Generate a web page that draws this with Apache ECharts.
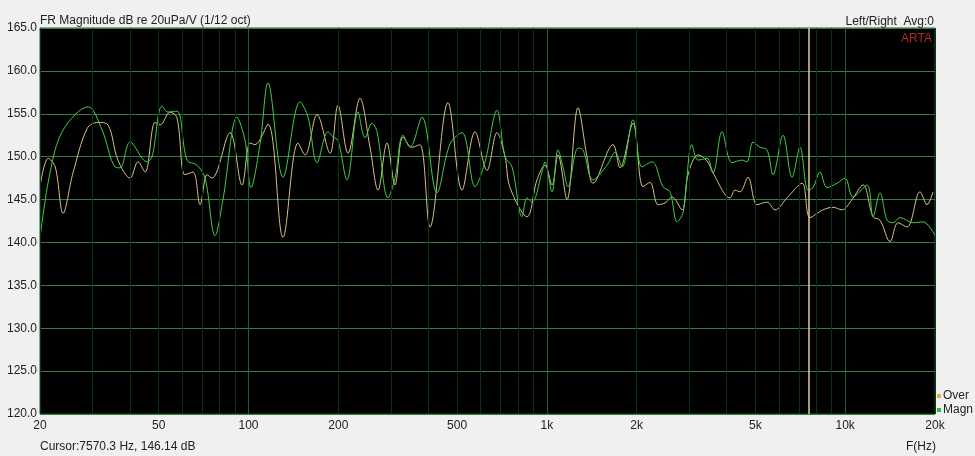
<!DOCTYPE html>
<html>
<head>
<meta charset="utf-8">
<script src="https://cdn.jsdelivr.net/npm/echarts@6/dist/echarts.min.js"></script>
<style>
html,body{margin:0;padding:0;background:#f0f0f0;}
#chart{width:975px;height:456px;}
</style>
</head>
<body>
<div id="chart"></div>
<script>
// ---- data ----
const magnFreq = [20,21.6,23.9,29.0,32.3,35.7,37.1,40.1,45.7,47.5,51.3,53.7,57.6,62.2,67.2,71.5,77.2,82.1,91.5,97.3,101.9,109.3,116.2,130.5,148.8,158.3,169.7,184.7,191.9,199.5,213.8,232.8,245.7,259.4,269.6,293.4,309.7,329.4,347.7,381.4,428.2,473.6,519.5,574.5,620.3,680.4,724.1,764.3,825.5,857.9,891.7,963.2,985.8,1040.5,1089.8,1132.7,1177.2,1271.7,1321.7,1427.8,1590.7,1692.0,1786.0,1944.3,2084.2,2251.6,2451.0,2587.2,2731.0,2860.4,3066.0,3211.2,3442.2,3605.4,3864.2,4174.2,4509.2,4686.8,4909.0,5181.6,5469.6,5728.6,6189.2,6634.4,7056.6,7505.8,7801.2,8234.2,8691.2,9388.4,9986.2,10622,11835,12396,13083,13810,14465,15267,16879,18233,20000];
const magnDb = [140.5,148.1,153.1,155.8,153.1,148.8,148.7,151.7,149.4,150.0,155.9,155.2,155.3,149.6,149.0,147.5,140.8,145.0,154.6,151.9,146.4,151.5,158.6,147.6,156.4,154.6,149.3,152.9,152.3,151.9,147.3,155.2,152.2,153.9,152.9,145.2,147.5,152.5,151.1,154.6,145.8,151.5,152.8,146.5,149.4,155.4,150.0,148.8,143.0,145.2,144.7,148.2,149.4,145.9,150.8,148.8,146.5,151.0,150.8,147.3,149.0,150.5,148.8,154.3,148.8,149.4,146.5,145.9,142.4,143.5,151.4,149.6,149.8,148.1,152.9,149.3,149.6,149.4,151.7,151.1,150.8,147.9,152.5,147.6,151.1,146.1,146.4,148.2,146.4,146.9,147.5,145.3,146.7,143.0,145.8,142.6,142.3,142.9,142.3,142.4,140.8];

const overFreq = [20,21.3,22.5,23.9,25.8,28.8,31.3,33.8,36.5,40.1,42.6,45.0,48.6,50.5,54.6,57.6,61.2,65.2,68.8,72.6,75.4,86.7,95.1,101.2,105.1,116.2,130.5,146.5,154.7,169.7,187.6,199.5,215.5,236.4,255.4,271.7,291.1,309.7,329.4,353.1,375.6,405.7,466.3,519.5,574.5,630.0,680.4,724.1,752.6,857.9,926.7,985.8,1040.5,1089.8,1168.2,1271.7,1363.2,1427.8,1666.1,1758.6,1944.3,2100.4,2217.2,2358.4,2489.0,2627.4,2838.4,2972.8,3211.2,3442.2,3605.4,4110.4,4272.0,4440.0,4723.0,5063.0,5469.6,5817.8,6383.2,7166.2,7622.6,8427.0,9103.2,9757.8,10540,11475,12396,13083,14134,15034,16115,17816,18805,19696];
const overDb = [146.5,149.8,148.8,143.4,148.1,153.3,154.0,153.7,149.6,147.5,149.4,148.2,154.0,153.7,155.2,154.5,147.9,148.2,144.4,147.9,147.5,152.8,146.7,151.6,151.4,153.8,140.6,151.6,150.2,154.9,150.4,156.0,150.4,156.8,151.1,146.1,151.6,146.7,152.3,151.1,151.4,141.8,156.3,146.1,152.9,148.4,152.8,150.0,146.4,143.0,147.3,149.0,146.7,150.2,145.0,155.7,150.0,146.9,151.4,148.7,153.9,146.5,147.0,144.4,144.6,145.3,143.8,147.9,150.2,149.5,148.1,145.2,146.1,145.9,147.6,144.4,144.7,143.8,145.2,146.9,142.9,143.8,144.1,143.8,145.0,146.7,143.0,142.6,140.1,142.3,141.8,145.9,144.4,145.9];

const gridFreqs = [20,30,40,50,60,70,80,90,100,200,300,400,500,600,700,800,900,1000,2000,3000,4000,5000,6000,7000,8000,9000,10000,20000];
const majorFreqs = [100,1000,10000];
const labelFreqs = [20,50,100,200,500,1000,2000,5000,10000,20000];
const cursorFreq = 7570.3;
const cursorDb = 146.14;
const yMin = 120, yMax = 165, yStep = 5;

const fmtF = v => v >= 1000 ? (v/1000) + 'k' : String(v);
const FONT = 'Arial, "Liberation Sans", sans-serif';
const MINOR = '#0b3216', MAJOR = '#1d6230';

const gridMarks = gridFreqs.map(f => {
  const major = majorFreqs.indexOf(f) >= 0;
  const lab = labelFreqs.indexOf(f) >= 0;
  return {
    xAxis: f,
    lineStyle: {color: major ? MAJOR : MINOR, width: 1, type: 'solid', opacity: 1},
    emphasis: {disabled: true},
    label: lab ? {show: true, position: 'start', formatter: fmtF(f), color: '#222', fontSize: 12, fontFamily: FONT, distance: 6} : {show: false}
  };
});

const chart = echarts.init(document.getElementById('chart'), null, {renderer: 'canvas'});
chart.setOption({
  animation: false,
  backgroundColor: '#f0f0f0',
  textStyle: {fontFamily: FONT},
  grid: {left: 40, right: 40, top: 28, bottom: 42, show: true, backgroundColor: '#000', borderColor: '#1e5a2a', borderWidth: 1},
  title: [
    {text: 'FR Magnitude dB re 20uPa/V (1/12 oct)', left: 35, top: 10, textStyle: {fontSize: 12, fontWeight: 'normal', color: '#222', fontFamily: FONT}},
    {text: 'Left/Right  Avg:0', right: 36, top: 11, textStyle: {fontSize: 12, fontWeight: 'normal', color: '#222', fontFamily: FONT}},
    {text: 'ARTA', right: 38, top: 28, textStyle: {fontSize: 12, fontWeight: 'normal', color: '#b02828', fontFamily: FONT}},
    {text: 'Cursor:' + cursorFreq + ' Hz, ' + cursorDb + ' dB', left: 35, top: 436, textStyle: {fontSize: 12, fontWeight: 'normal', color: '#222', fontFamily: FONT}},
    {text: 'F(Hz)', left: 901, top: 436, textStyle: {fontSize: 12, fontWeight: 'normal', color: '#222', fontFamily: FONT}}
  ],
  legend: {
    orient: 'vertical', right: -3, top: 385, itemWidth: 4, itemHeight: 4, itemGap: 2, icon: 'rect',
    textStyle: {fontSize: 12, color: '#222', fontFamily: FONT, padding: [0,0,0,-3]},
    data: [{name: 'Over', itemStyle: {color: '#e0b040'}}, {name: 'Magn', itemStyle: {color: '#22c040'}}]
  },
  xAxis: {
    type: 'log', logBase: 10, min: 20, max: 20000,
    axisLine: {show: false}, axisTick: {show: false}, axisLabel: {show: false}, splitLine: {show: false}
  },
  yAxis: {
    type: 'value', min: yMin, max: yMax, interval: yStep,
    axisLine: {show: false}, axisTick: {show: false},
    axisLabel: {formatter: v => v.toFixed(1), color: '#222', fontSize: 12, fontFamily: FONT, margin: 3},
    splitLine: {show: true, lineStyle: {color: '#397a45', width: 1}}
  },
  series: [
    {name: 'grid', type: 'line', data: [], z: 1, silent: true, color: MINOR,
     markLine: {silent: true, symbol: 'none', animation: false, lineStyle: {color: MINOR, width: 1, type: 'solid'}, emphasis: {disabled: true}, data: gridMarks}},
    {name: 'Over', type: 'line', z: 3, showSymbol: false, smooth: 0.35, color: '#e0b040',
     lineStyle: {color: '#d6c284', width: 1}, data: overFreq.map((f, i) => [f, overDb[i]])},
    {name: 'Magn', type: 'line', z: 4, showSymbol: false, smooth: 0.35, color: '#22c040',
     lineStyle: {color: '#3fcf45', width: 1}, data: magnFreq.map((f, i) => [f, magnDb[i]])},
    {name: 'cursor', type: 'line', data: [], z: 2, silent: true,
     markLine: {silent: true, symbol: 'none', animation: false, label: {show: false}, emphasis: {disabled: true},
       data: [{xAxis: cursorFreq, lineStyle: {color: '#dcd08c', width: 1.5, type: 'solid'}}]}}
  ]
});
</script>
</body>
</html>
